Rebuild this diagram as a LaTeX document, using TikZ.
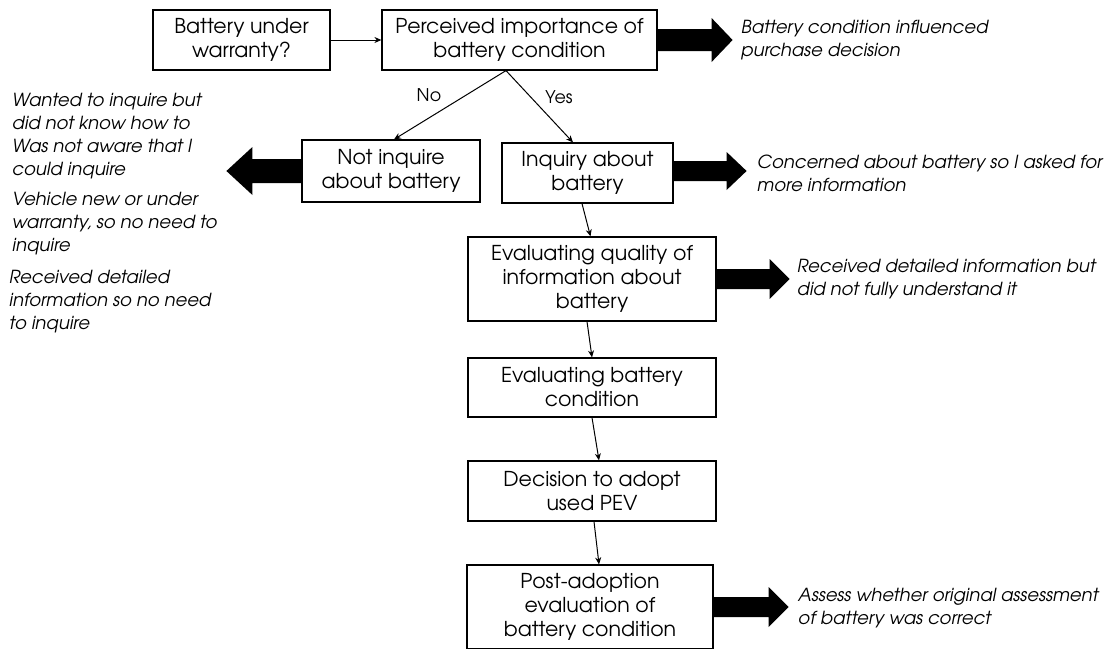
\documentclass[tikz,border=0pt]{standalone}
\usepackage{fontspec}
\setmainfont{TeX Gyre Adventor}
\usetikzlibrary{arrows.meta,calc}
\newcommand\BigArr[6]{% #1 start, #2 total length, #3 head length, #4 body half, #5 head half
  \fill[black] (#1) ++(0,-#4) -- ++(#2-#3,0) -- ++(0,#4-#5) -- ++(#3,#5) -- ++(-#3,#5) -- ++(0,#4-#5) -- ++(-#2+#3,0) -- cycle;}
\begin{document}
\begin{tikzpicture}[x=1pt,y=-1pt,
  box/.style={draw=black,line width=1.2pt,align=center,inner sep=2pt,
    font=\fontsize{20.5}{24}\selectfont},
  note/.style={anchor=west,align=left,inner sep=0pt,
    font=\fontsize{18}{23}\selectfont\itshape},
  lab/.style={inner sep=0pt,font=\fontsize{17.5}{20}\selectfont},
  conn/.style={line width=1pt,-{Stealth[length=7pt,width=6pt]}}]
\useasboundingbox (0,0) rectangle (1107,648);
\fill[white] (0,0) rectangle (1107,648);

\node[box,minimum width=177pt,minimum height=60pt] (b1) at (241.5,40) {Battery under\\warranty?};
\node[box,minimum width=275pt,minimum height=60pt] (b2) at (519.5,40) {Perceived importance of\\battery condition};
\node[box,minimum width=178pt,minimum height=62pt] (nq) at (391,171) {Not inquire\\about battery};
\node[box,minimum width=171pt,minimum height=60pt] (iq) at (587.5,173) {Inquiry about\\battery};
\node[box,minimum width=248pt,minimum height=84pt] (eq) at (592,279) {Evaluating quality of\\information about\\battery};
\node[box,minimum width=248pt,minimum height=59pt] (eb) at (592,387.5) {Evaluating battery\\condition};
\node[box,minimum width=248pt,minimum height=60pt] (dec) at (592,491) {Decision to adopt\\used PEV};
\node[box,minimum width=246pt,minimum height=84pt] (post) at (590,607) {Post-adoption\\evaluation of\\battery condition};

\draw[conn] (b1.east) -- (b2.west);
\draw[conn] ([xshift=-13.5pt]b2.south) -- ([xshift=3pt]nq.north);
\draw[conn] ([xshift=-13.5pt]b2.south) -- ([xshift=-14.5pt]iq.north);
\draw[conn] ([xshift=-5.5pt]iq.south) -- ([xshift=-1.5pt]eq.north);
\draw[conn] ([xshift=-5pt]eq.south) -- (eb.north);
\draw[conn] (eb.south) -- ([xshift=7pt]dec.north);
\draw[conn] ([xshift=2pt]dec.south) -- ([xshift=9pt]post.north);

\node[lab] (no) at (429,95) {No};
\node[lab] (yes) at (559,97) {Yes};

\BigArr{b2.east}{75}{21}{11}{22}{}
\BigArr{[yshift=2pt]iq.east}{73}{20}{10}{19}{}
\BigArr{eq.east}{73}{20}{10}{20}{}
\BigArr{post.east}{75}{20}{10}{20}{}
\BigArr{nq.west}{-75}{-26}{12}{24}{}

\node[note] (t1) at (741,40) {Battery condition influenced\\purchase decision};
\node[note] (t2) at (757,173) {Concerned about battery so I asked for\\more information};
\node[note] (t3) at (797,279) {Received detailed information but\\did not fully understand it};
\node[note] (t4) at (798,608) {Assess whether original assessment\\of battery was correct};

\node[note] (l1) at (12,111.5) {Wanted to inquire but\\did not know how to};
\node[note] (l2) at (12,159.5) {Was not aware that I\\could inquire};
\node[note] (l3) at (12,224) {Vehicle new or under\\warranty, so no need to\\inquire};
\node[note] (l4) at (9,302) {Received detailed\\information so no need\\to inquire};
\end{tikzpicture}
\end{document}
